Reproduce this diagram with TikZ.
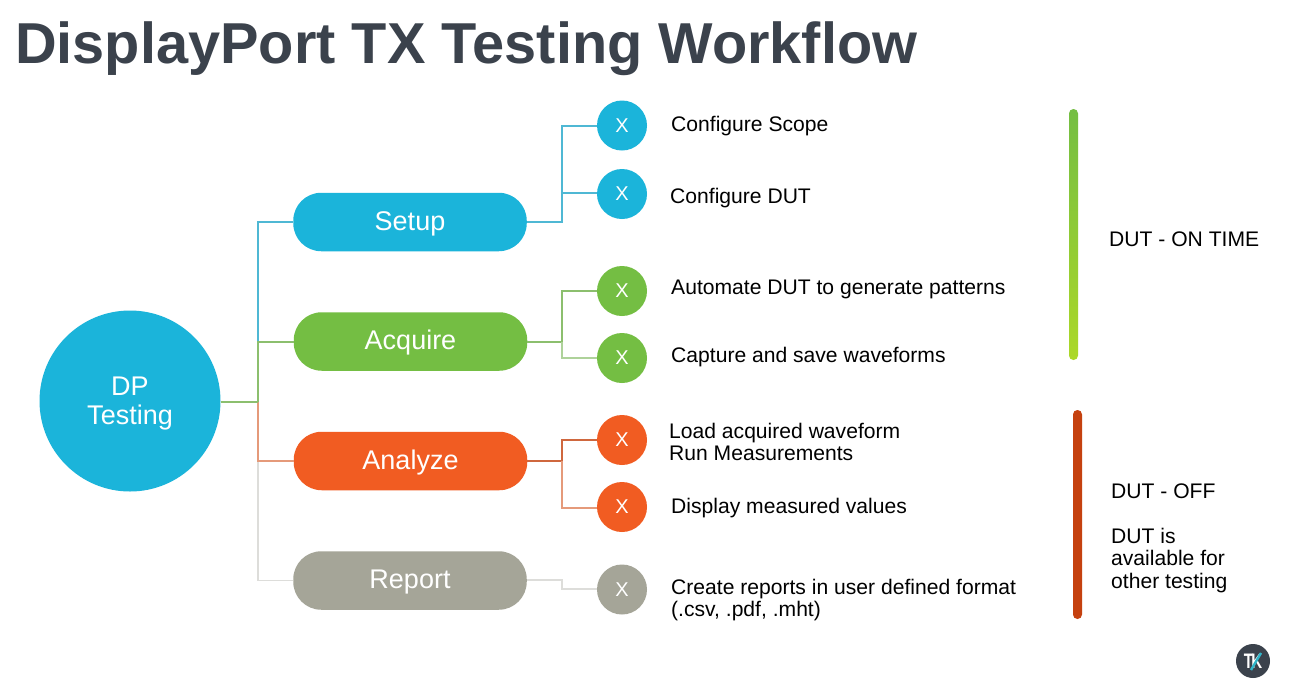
\documentclass[tikz,border=0pt]{standalone}
\usepackage{graphicx}
\usepackage{fontspec}
\setmainfont{Liberation Sans}
\usetikzlibrary{calc}
\definecolor{cblue}{HTML}{1BB4DA}
\definecolor{cgreen}{HTML}{74BE43}
\definecolor{corange}{HTML}{F15C22}
\definecolor{cgrey}{HTML}{A5A598}
\definecolor{lblue}{HTML}{4FB8D4}
\definecolor{lgreen}{HTML}{8CBF6E}
\definecolor{lorange}{HTML}{E59A7A}
\definecolor{lgrey}{HTML}{DDDDDA}
\definecolor{titlec}{HTML}{3B424C}
\definecolor{barred}{HTML}{C5410F}
\definecolor{tkteal}{HTML}{2FB5C9}
\tikzset{
  x=1pt,y=-1pt,
  hub/.style={circle,fill=cblue,text=white,minimum size=181pt,inner sep=0pt,align=center,font=\fontsize{27}{29}\selectfont},
  pill/.style={rectangle,rounded corners=28pt,minimum width=233.5pt,minimum height=58.5pt,inner sep=0pt,text=white,text height=21pt,text depth=5pt,font=\fontsize{27}{29}\selectfont},
  dot/.style={circle,minimum size=50pt,inner sep=0pt,text=white,font=\fontsize{20}{22}\selectfont},
  lab/.style={anchor=base west,inner sep=0pt,text=black,font=\fontsize{21.1}{22}\selectfont},
  blab/.style={anchor=west,inner sep=0pt,text=black,align=left,font=\fontsize{21.1}{22.4}\selectfont},
  conn/.style={line width=1.1pt},
  bar/.style={rectangle,rounded corners=4.4pt,inner sep=0pt,minimum width=9pt}
}
\begin{document}
\begin{tikzpicture}
\useasboundingbox (0,0) rectangle (1293,691);
\fill[white] (0,0) rectangle (1293,691);
\node[anchor=base west,inner sep=0pt,text=titlec,font=\fontsize{57.7}{60}\selectfont\bfseries] (title) at (15,63) {DisplayPort TX Testing Workflow};

\node[hub] (dp) at (130,401) {\rule{0pt}{23pt}DP\\Testing};
\node[pill,fill=cblue] (setup) at (410,222) {Setup};
\node[pill,fill=cgreen] (acquire) at (410.5,341.5) {Acquire};
\node[pill,fill=corange] (analyze) at (410.5,461) {Analyze};
\node[pill,fill=cgrey] (report) at (410,580.5) {Report};

\node[dot,fill=cblue] (d1) at (622,125.5) {X};
\node[dot,fill=cblue] (d2) at (622,194) {X};
\node[dot,fill=cgreen] (d3) at (622,291) {X};
\node[dot,fill=cgreen] (d4) at (622,358) {X};
\node[dot,fill=corange] (d5) at (622,440) {X};
\node[dot,fill=corange] (d6) at (622,507) {X};
\node[dot,fill=cgrey] (d7) at (622,589.5) {X};

\coordinate (tk) at (258,402);
\coordinate (j1) at (562,222);
\coordinate (j2) at (562,342);
\coordinate (j3) at (562,461);
\coordinate (j4) at (562,580);

% first level, lightest drawn first
\draw[conn,lgrey] (tk) |- (report.west);
\draw[conn,lorange] (tk) |- (analyze.west);
\draw[conn,lblue] (tk) |- (setup.west);
\draw[conn,lgreen] (tk) |- (acquire.west |- j2);
\draw[conn,lgreen] (dp.east |- tk) -- (tk);

% second level
\draw[conn,lblue] (setup.east |- j1) -- (j1) |- (d1.west |- 0,126);
\draw[conn,lblue] (j1) |- (d2.west |- 0,193);
\draw[conn,lgreen] (acquire.east |- j2) -- (j2) |- (d3.west |- 0,291);
\draw[conn,lgreen!70] (j2) |- (d4.west |- 0,358);
\draw[conn,corange!70!gray] (analyze.east |- j3) -- (j3) |- (d5.west |- 0,440);
\draw[conn,lorange] (j3) |- (d6.west |- 0,508);
\draw[conn,lgrey] (report.east |- j4) -- (j4) |- (d7.west |- 0,589);

\node[lab] (t1) at (671,131) {Configure Scope};
\node[lab] (t2) at (670,203) {Configure DUT};
\node[lab] (t3) at (671,294) {Automate DUT to generate patterns};
\node[lab] (t4) at (671,362) {Capture and save waveforms};
\node[blab] (t5) at (669,442) {Load acquired waveform\\Run Measurements};
\node[lab] (t6) at (671,513) {Display measured values};
\node[blab] (t7) at (671,600) {Create reports in user defined format\\(.csv, .pdf, .mht)};

\node[bar,minimum height=251pt,top color=cgreen,bottom color=cgreen!60!yellow] (b1) at (1073.5,234.5) {};
\node[bar,minimum height=209pt,fill=barred] (b2) at (1077.5,514.5) {};
\node[lab] (t8) at (1109,246) {DUT - ON TIME};
\node[lab] (t9) at (1111,498) {DUT - OFF};
\node[blab] (t10) at (1111,560.5) {DUT is\\available for\\other testing};

% logo
\node[circle,fill=titlec,minimum size=34pt,inner sep=0pt] (logo) at (1253,661) {};
\node[inner sep=0pt,text=white,font=\fontsize{21}{21}\selectfont\bfseries] (tktext) at (logo.center) {\scalebox{0.72}[1]{T\kern-2.5pt K}};
\draw[tkteal,line width=2.4pt] ($(logo.center)+(-2,9)$) -- ($(logo.center)+(8,-8)$);
\end{tikzpicture}
\end{document}
